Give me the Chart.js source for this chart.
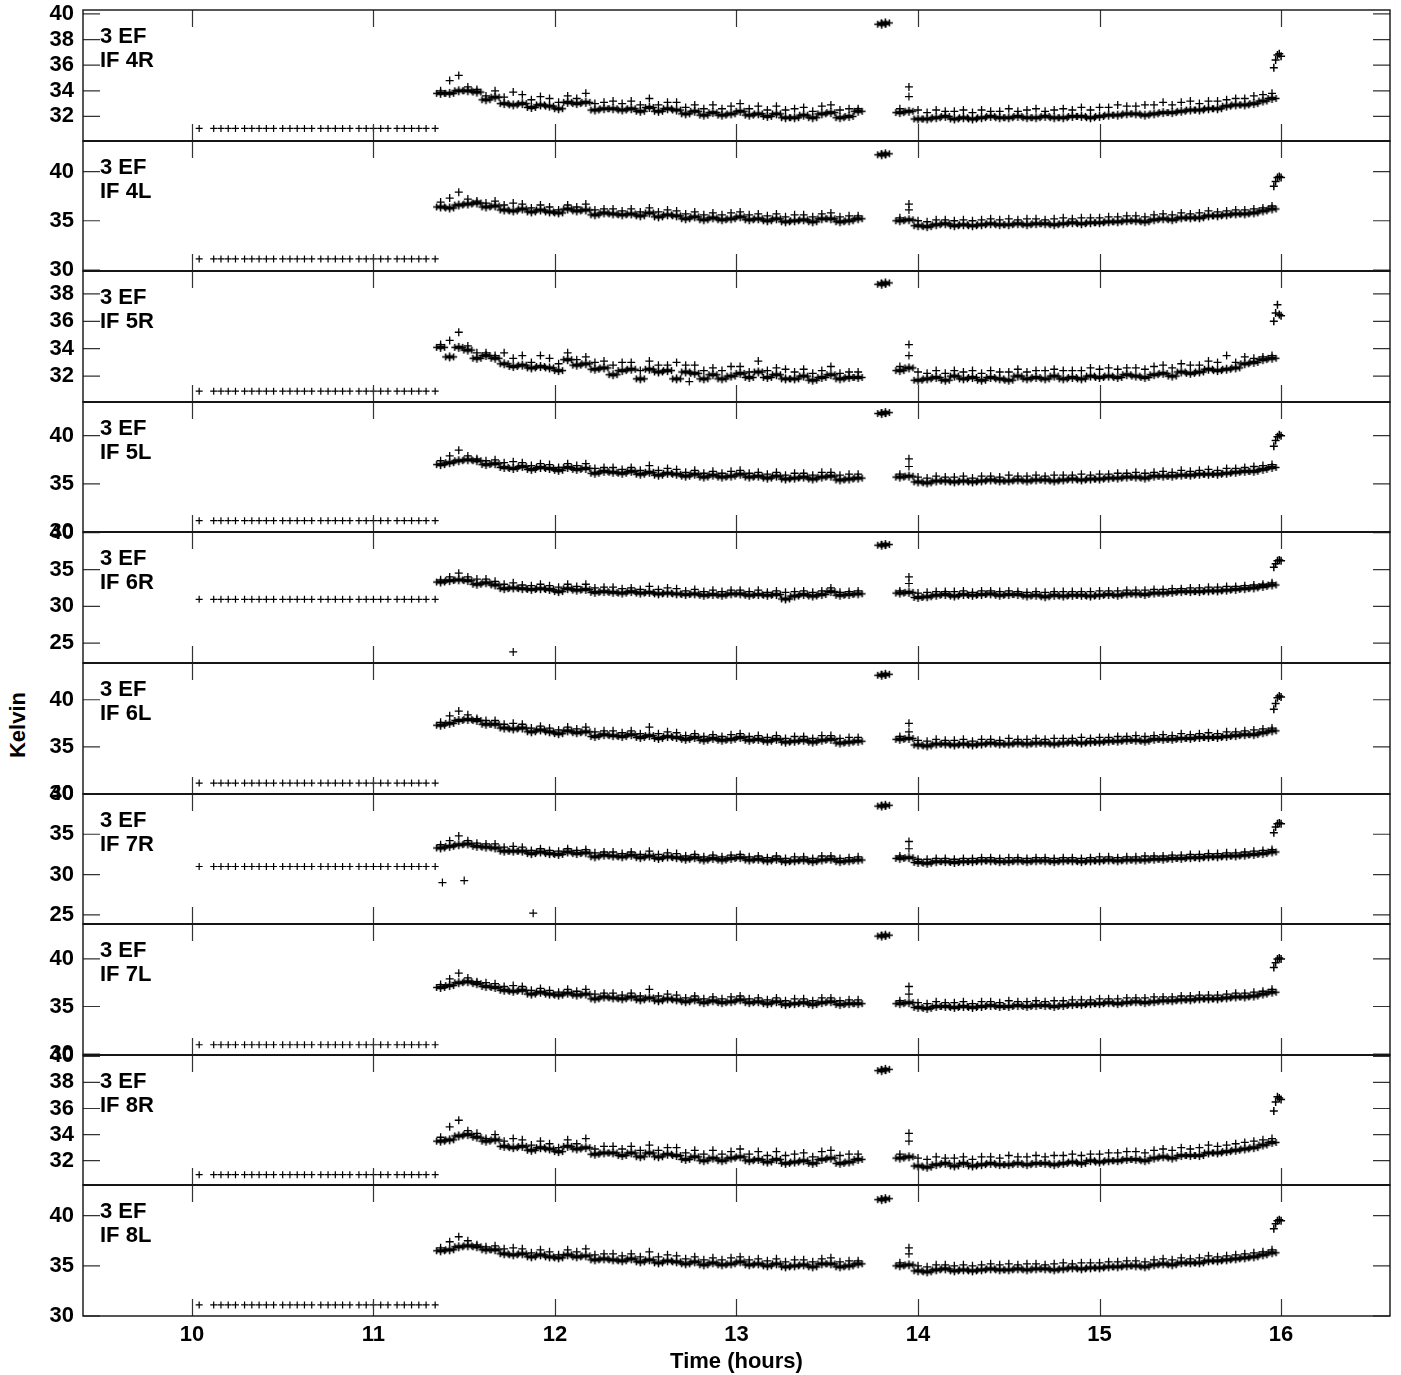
<!DOCTYPE html>
<html>
<head>
<meta charset="utf-8">
<script src="https://cdn.jsdelivr.net/npm/chart.js@4.4.1/dist/chart.umd.min.js"></script>
<style>
  body { margin: 0; background: #fff; width: 1401px; height: 1375px; overflow: hidden; position: relative; font-family: "Liberation Sans", Arial, sans-serif; }
  canvas { position: absolute; left: 0; }
  #ylab { position: absolute; left: 18px; top: 725px; transform: translate(-50%, -50%) rotate(-90deg); font-weight: bold; font-size: 22px; white-space: nowrap; }
</style>
</head>
<body>
<div id="ylab">Kelvin</div>
<script>
// ---- data ----
const antennaName = '3 EF';
const panelNames = ['IF 4R', 'IF 4L', 'IF 5R', 'IF 5L', 'IF 6R', 'IF 6L', 'IF 7R', 'IF 7L', 'IF 8R', 'IF 8L'];
const xTicks = [10, 11, 12, 13, 14, 15, 16];

const yTicksR = [32, 34, 36, 38, 40];
const yTicks5R = [32, 34, 36, 38];
const yTicksL = [30, 35, 40];
const yTicksWide = [25, 30, 35, 40];

// start-up scans sitting at the panel floor
const earlyTimes = [10.04, 10.12, 10.16, 10.20, 10.24, 10.29, 10.33, 10.37, 10.41, 10.45, 10.50, 10.54, 10.58, 10.62, 10.66, 10.71,
  10.75, 10.79, 10.83, 10.87, 10.92, 10.96, 11.00, 11.04, 11.08, 11.13, 11.17, 11.21, 11.25, 11.29, 11.34];
const earlyLevels = [31.06, 31.13, 30.9, 31.18, 30.95, 31.16, 31.0, 30.98, 30.93, 31.1];

const timesA = [11.37, 11.42, 11.47, 11.52, 11.57, 11.62, 11.67, 11.72, 11.77, 11.82, 11.87, 11.92, 11.97, 12.02, 12.07, 12.12,
  12.17, 12.22, 12.27, 12.32, 12.37, 12.42, 12.47, 12.52, 12.57, 12.62, 12.67, 12.72, 12.77, 12.82, 12.87, 12.92, 12.97, 13.02,
  13.07, 13.12, 13.17, 13.22, 13.27, 13.32, 13.37, 13.42, 13.47, 13.52, 13.57, 13.62, 13.67];
const timesC = [13.90, 13.95, 14.00, 14.05, 14.10, 14.15, 14.20, 14.25, 14.30, 14.35, 14.40, 14.45, 14.50, 14.55, 14.60, 14.65,
  14.70, 14.75, 14.80, 14.85, 14.90, 14.95, 15.00, 15.05, 15.10, 15.15, 15.20, 15.25, 15.30, 15.35, 15.40, 15.45, 15.50, 15.55,
  15.60, 15.65, 15.70, 15.75, 15.80, 15.85, 15.90, 15.95];
const hiTimes = [13.80, 13.82];
const riseTimes = [15.96, 15.97, 15.98, 15.99, 16.00];

// IF 4R
const base4R_A = [33.8,33.8,34.0,34.0,33.9,33.3,33.5,33.0,32.9,33.0,32.7,32.9,32.8,32.6,33.1,33.0,33.1,32.5,32.6,32.6,32.5,32.6,32.4,32.7,32.4,32.6,32.5,32.2,32.4,32.1,32.3,32.1,32.2,32.4,32.1,32.2,32.0,32.2,31.9,31.9,32.1,31.9,32.2,32.3,31.9,32.0,32.4];
const spike4R_A = [34.0,34.8,35.2,34.3,34.1,33.6,34.0,33.5,33.9,33.7,33.3,33.55,33.4,33.1,33.6,33.4,33.8,33.0,33.1,33.2,33.0,33.2,32.9,33.4,32.9,33.1,33.1,32.7,32.9,32.6,32.9,32.6,32.8,33.0,32.6,32.8,32.5,32.8,32.5,32.6,32.7,32.4,32.8,32.9,32.5,32.6,32.6];
const base4R_C = [32.3,32.4,31.8,31.8,31.9,32.0,31.8,31.9,31.8,31.9,32.0,31.9,31.9,32.0,31.9,31.9,32.0,31.9,31.9,32.0,32.0,31.9,32.0,32.1,32.1,32.2,32.2,32.1,32.2,32.3,32.3,32.4,32.5,32.5,32.6,32.6,32.8,32.9,32.9,33.0,33.2,33.4];
const spike4R_C = [32.6,34.3,32.5,32.3,32.5,32.4,32.4,32.5,32.3,32.5,32.4,32.4,32.6,32.4,32.5,32.6,32.4,32.5,32.6,32.5,32.7,32.5,32.7,32.7,32.9,32.8,32.8,32.9,32.9,33.1,32.9,33.1,33.2,33.0,33.2,33.2,33.3,33.4,33.4,33.6,33.7,33.8];
const hi4R = [39.2, 39.3];
const rise4R = [35.8, 36.4, 36.8, 36.9, 36.7];
const extraT4R = [13.95];
const extraV4R = [33.55];

// IF 4L
const base4L_A = [36.4,36.3,36.6,36.7,36.8,36.4,36.5,36.1,36.0,36.2,35.9,36.1,35.9,35.8,36.2,36.0,36.1,35.6,35.8,35.7,35.6,35.7,35.5,35.8,35.4,35.6,35.5,35.2,35.4,35.1,35.3,35.1,35.2,35.4,35.1,35.2,35.0,35.2,34.9,35.0,35.1,34.9,35.2,35.2,34.9,35.0,35.2];
const spike4L_A = [36.9,37.3,37.9,37.2,37.0,36.8,37.0,36.6,36.8,36.7,36.3,36.6,36.4,36.1,36.6,36.4,36.7,36.1,36.2,36.2,36.0,36.2,35.9,36.3,35.9,36.1,36.0,35.7,35.9,35.6,35.8,35.6,35.8,35.9,35.6,35.7,35.5,35.7,35.4,35.6,35.6,35.4,35.7,35.8,35.4,35.5,35.5];
const base4L_C = [35.0,35.1,34.5,34.4,34.6,34.7,34.5,34.6,34.5,34.6,34.7,34.6,34.6,34.7,34.6,34.7,34.7,34.6,34.7,34.8,34.7,34.8,34.8,34.9,34.9,35.0,35.0,34.9,35.1,35.2,35.1,35.3,35.3,35.3,35.5,35.5,35.6,35.7,35.7,35.8,36.0,36.2];
const spike4L_C = [35.3,36.7,35.0,34.9,35.1,35.1,35.0,35.1,35.0,35.1,35.2,35.1,35.2,35.1,35.2,35.2,35.1,35.2,35.3,35.2,35.3,35.3,35.3,35.4,35.4,35.5,35.5,35.4,35.6,35.7,35.6,35.8,35.7,35.8,36.0,35.9,36.0,36.1,36.1,36.2,36.3,36.5];
const hi4L = [41.7, 41.8];
const rise4L = [38.5, 39.0, 39.4, 39.5, 39.4];
const extraT4L = [13.95];
const extraV4L = [36.1];

// IF 5R
const base5R_A = [34.1,33.4,34.1,33.9,33.3,33.5,33.3,32.9,32.7,32.8,32.6,32.7,32.6,32.4,33.2,32.8,32.9,32.5,32.6,32.1,32.4,32.5,31.8,32.5,32.3,32.4,31.8,32.3,32.2,31.8,32.1,31.8,32.0,32.2,31.9,32.3,31.9,32.1,31.8,31.8,32.0,31.7,31.9,32.1,31.8,31.9,31.9];
const spike5R_A = [34.3,34.6,35.2,34.2,33.7,33.7,33.5,33.7,33.3,33.5,33.0,33.5,33.3,32.9,33.7,33.2,33.4,33.0,33.1,32.8,33.0,33.0,32.4,33.1,32.8,32.8,33.0,32.8,32.8,32.4,32.6,32.4,32.7,32.7,32.3,33.1,32.4,32.6,32.5,32.3,32.5,32.2,32.4,32.7,32.2,32.3,32.3];
const base5R_C = [32.4,32.6,31.7,31.8,31.9,31.7,32.0,31.8,31.9,31.7,31.9,31.8,31.7,32.0,31.8,31.9,31.8,32.0,31.8,31.9,31.8,32.0,31.9,32.0,31.9,32.1,32.0,31.9,32.1,32.2,32.0,32.3,32.2,32.3,32.5,32.4,32.5,32.6,32.9,33.0,33.2,33.3];
const spike5R_C = [32.7,34.3,32.3,32.2,32.4,32.2,32.4,32.3,32.4,32.2,32.4,32.3,32.3,32.5,32.3,32.4,32.4,32.5,32.4,32.4,32.4,32.6,32.5,32.6,32.5,32.6,32.6,32.5,32.7,32.8,32.6,32.9,32.8,32.8,33.1,33.0,33.5,33.0,33.4,33.3,33.4,33.5];
const hi5R = [38.7, 38.8];
const rise5R = [36.0, 36.6, 37.2, 36.5, 36.4];
const extraT5R = [12.74, 13.95];
const extraV5R = [31.6, 33.5];

// IF 5L
const base5L_A = [37.0,37.2,37.4,37.5,37.4,37.0,37.1,36.7,36.6,36.8,36.5,36.7,36.6,36.4,36.7,36.5,36.6,36.1,36.3,36.2,36.1,36.3,36.0,36.2,35.9,36.1,36.0,35.8,36.0,35.7,35.9,35.7,35.8,36.0,35.7,35.8,35.6,35.8,35.5,35.6,35.7,35.5,35.7,35.8,35.4,35.5,35.6];
const spike5L_A = [37.4,37.9,38.5,37.9,37.6,37.4,37.5,37.2,37.3,37.2,36.9,37.1,37.0,36.7,37.1,36.9,37.1,36.6,36.7,36.7,36.5,36.7,36.4,36.9,36.4,36.6,36.5,36.2,36.4,36.1,36.3,36.1,36.3,36.4,36.1,36.2,36.0,36.2,35.9,36.1,36.1,35.9,36.2,36.2,35.9,36.0,36.0];
const base5L_C = [35.7,35.8,35.2,35.1,35.3,35.3,35.2,35.3,35.2,35.3,35.4,35.3,35.3,35.4,35.3,35.4,35.4,35.3,35.4,35.5,35.4,35.5,35.5,35.6,35.6,35.7,35.7,35.6,35.8,35.8,35.8,35.9,35.9,36.0,36.0,36.0,36.1,36.2,36.3,36.3,36.5,36.7];
const spike5L_C = [36.0,37.6,35.7,35.6,35.8,35.7,35.7,35.8,35.6,35.8,35.8,35.7,35.9,35.8,35.8,35.9,35.8,35.9,35.9,35.9,36.0,35.9,36.0,36.0,36.1,36.1,36.2,36.1,36.2,36.3,36.2,36.4,36.3,36.4,36.5,36.4,36.6,36.6,36.7,36.8,36.9,37.0];
const hi5L = [42.3, 42.4];
const rise5L = [38.9, 39.5, 39.9, 40.1, 40.0];
const extraT5L = [13.95];
const extraV5L = [36.8];

// IF 6R
const base6R_A = [33.3,33.5,33.6,33.5,33.0,33.2,32.9,32.4,32.5,32.4,32.3,32.4,32.3,32.0,32.4,32.2,32.3,31.9,32.0,31.9,31.8,32.0,31.8,31.9,31.7,31.8,31.7,31.6,31.7,31.5,31.6,31.5,31.7,31.7,31.5,31.6,31.5,31.6,31.0,31.4,31.6,31.4,31.6,32.0,31.5,31.6,31.7];
const spike6R_A = [33.6,34.0,34.5,34.0,33.7,33.7,33.4,33.0,33.2,32.9,32.8,33.0,32.8,32.6,33.0,32.7,33.0,32.5,32.6,32.6,32.4,32.5,32.3,32.7,32.3,32.5,32.4,32.1,32.3,32.0,32.2,32.0,32.2,32.2,32.0,32.2,31.9,32.1,31.9,32.0,32.1,31.9,32.1,32.5,31.9,32.0,32.1];
const base6R_C = [31.8,31.9,31.2,31.3,31.5,31.6,31.4,31.6,31.5,31.6,31.7,31.5,31.6,31.6,31.4,31.5,31.3,31.5,31.4,31.5,31.5,31.4,31.5,31.6,31.5,31.7,31.7,31.6,31.8,31.8,31.9,32.0,32.0,32.0,32.1,32.1,32.2,32.3,32.4,32.5,32.7,32.9];
const spike6R_C = [32.1,34.0,31.8,31.9,32.0,32.0,32.0,32.1,31.9,32.1,32.1,32.0,32.1,32.0,31.9,32.0,31.9,32.0,32.0,32.0,32.0,32.0,32.1,32.1,32.1,32.2,32.2,32.2,32.3,32.3,32.4,32.4,32.5,32.5,32.6,32.6,32.7,32.7,32.8,32.9,33.0,33.2];
const hi6R = [38.3, 38.4];
const rise6R = [35.3, 35.8, 36.2, 36.3, 36.2];
const extraT6R = [11.77, 13.95];
const extraV6R = [23.8, 33.1];

// IF 6L
const base6L_A = [37.3,37.5,37.8,37.9,37.8,37.4,37.4,37.0,36.9,37.0,36.6,36.8,36.6,36.4,36.7,36.5,36.6,36.1,36.3,36.2,36.1,36.3,36.0,36.2,35.9,36.1,36.0,35.8,36.0,35.7,35.9,35.7,35.8,36.0,35.7,35.8,35.6,35.8,35.5,35.6,35.7,35.5,35.7,35.8,35.4,35.5,35.6];
const spike6L_A = [37.6,38.3,38.8,38.4,38.0,37.8,37.8,37.4,37.5,37.4,37.0,37.2,37.0,36.8,37.1,36.9,37.1,36.6,36.7,36.7,36.5,36.7,36.4,37.1,36.4,36.6,36.5,36.2,36.4,36.1,36.3,36.1,36.3,36.4,36.1,36.2,36.0,36.2,35.9,36.1,36.1,35.9,36.2,36.2,35.9,36.0,36.0];
const base6L_C = [35.8,35.9,35.2,35.1,35.3,35.3,35.2,35.3,35.2,35.3,35.4,35.3,35.3,35.4,35.3,35.4,35.4,35.3,35.4,35.5,35.4,35.5,35.5,35.6,35.6,35.7,35.7,35.6,35.8,35.8,35.8,35.9,35.9,36.0,36.0,36.0,36.1,36.2,36.3,36.3,36.5,36.7];
const spike6L_C = [36.1,37.5,35.7,35.6,35.8,35.7,35.7,35.8,35.6,35.8,35.8,35.7,35.9,35.8,35.8,35.9,35.8,35.9,35.9,35.9,36.0,35.9,36.0,36.0,36.1,36.1,36.2,36.1,36.2,36.3,36.2,36.4,36.3,36.4,36.5,36.4,36.6,36.6,36.7,36.8,36.9,37.0];
const hi6L = [42.6, 42.7];
const rise6L = [39.0, 39.6, 40.2, 40.4, 40.3];
const extraT6L = [13.95];
const extraV6L = [36.6];

// IF 7R
const base7R_A = [33.3,33.5,33.7,33.8,33.5,33.4,33.3,32.9,32.9,32.9,32.6,32.8,32.6,32.5,32.8,32.6,32.7,32.2,32.4,32.3,32.2,32.4,32.1,32.3,32.0,32.2,32.1,31.9,32.1,31.8,32.0,31.8,32.0,32.1,31.8,31.9,31.7,31.9,31.6,31.7,31.8,31.6,31.8,31.9,31.6,31.7,31.8];
const spike7R_A = [33.7,34.2,34.8,34.2,33.9,33.8,33.8,33.4,33.5,33.4,33.0,33.2,33.0,32.9,33.2,33.0,33.1,32.7,32.8,32.8,32.6,32.8,32.5,32.9,32.5,32.7,32.6,32.3,32.5,32.2,32.4,32.2,32.4,32.5,32.2,32.3,32.1,32.3,32.0,32.2,32.2,32.0,32.3,32.3,32.0,32.1,32.2];
const base7R_C = [32.0,32.1,31.5,31.4,31.6,31.6,31.5,31.6,31.6,31.7,31.7,31.6,31.6,31.7,31.6,31.7,31.7,31.6,31.7,31.7,31.6,31.7,31.7,31.8,31.7,31.8,31.8,31.8,31.9,31.9,32.0,32.0,32.1,32.1,32.2,32.2,32.3,32.3,32.4,32.5,32.6,32.8];
const spike7R_C = [32.3,34.1,31.9,31.9,32.0,32.0,31.9,32.0,32.0,32.1,32.1,32.0,32.1,32.1,32.0,32.1,32.1,32.0,32.1,32.1,32.0,32.1,32.2,32.2,32.1,32.2,32.2,32.3,32.3,32.3,32.4,32.4,32.5,32.5,32.6,32.6,32.7,32.7,32.8,32.9,33.0,33.1];
const hi7R = [38.5, 38.6];
const rise7R = [35.2, 35.9, 36.3, 36.4, 36.3];
const extraT7R = [11.38, 11.50, 11.88, 13.95];
const extraV7R = [29.0, 29.25, 25.2, 33.2];

// IF 7L
const base7L_A = [37.0,37.2,37.5,37.6,37.4,37.1,37.0,36.7,36.6,36.7,36.3,36.5,36.3,36.2,36.4,36.2,36.3,35.8,36.0,35.9,35.8,36.0,35.7,35.9,35.6,35.8,35.7,35.5,35.7,35.4,35.6,35.4,35.5,35.7,35.4,35.5,35.3,35.5,35.2,35.3,35.4,35.2,35.4,35.5,35.2,35.3,35.3];
const spike7L_A = [37.3,37.9,38.5,38.0,37.6,37.5,37.4,37.1,37.2,37.1,36.7,36.9,36.7,36.5,36.8,36.6,36.8,36.3,36.4,36.4,36.2,36.4,36.1,36.8,36.1,36.3,36.2,35.9,36.1,35.8,36.0,35.8,36.0,36.1,35.8,35.9,35.7,35.9,35.6,35.8,35.8,35.6,35.9,35.9,35.6,35.7,35.7];
const base7L_C = [35.3,35.4,34.9,34.8,35.0,35.0,34.9,35.0,34.9,35.0,35.1,35.0,35.0,35.1,35.0,35.1,35.1,35.0,35.1,35.2,35.2,35.3,35.3,35.4,35.3,35.4,35.5,35.4,35.5,35.6,35.6,35.7,35.7,35.8,35.8,35.8,35.9,36.0,36.0,36.1,36.3,36.5];
const spike7L_C = [35.6,37.1,35.4,35.3,35.5,35.4,35.4,35.5,35.3,35.5,35.5,35.4,35.6,35.5,35.5,35.6,35.5,35.6,35.6,35.7,35.7,35.7,35.8,35.8,35.8,35.9,35.9,35.9,36.0,36.0,36.0,36.1,36.1,36.2,36.2,36.2,36.3,36.4,36.4,36.5,36.6,36.8];
const hi7L = [42.4, 42.5];
const rise7L = [39.1, 39.6, 40.0, 40.1, 40.0];
const extraT7L = [13.95];
const extraV7L = [36.3];

// IF 8R
const base8R_A = [33.5,33.6,33.9,34.0,33.8,33.5,33.6,33.1,33.0,33.1,32.8,33.0,32.9,32.7,33.1,32.9,33.0,32.5,32.6,32.6,32.4,32.6,32.3,32.6,32.3,32.5,32.4,32.1,32.3,32.0,32.2,32.0,32.2,32.3,32.0,32.1,31.9,32.1,31.8,31.9,32.0,31.8,32.1,32.2,31.8,31.9,32.1];
const spike8R_A = [33.8,34.6,35.1,34.3,34.1,33.7,34.0,33.5,33.7,33.6,33.2,33.5,33.3,33.0,33.6,33.3,33.7,32.9,33.1,33.1,32.9,33.1,32.8,33.2,32.8,33.0,33.0,32.6,32.8,32.5,32.8,32.5,32.7,32.9,32.5,32.7,32.4,32.7,32.4,32.5,32.6,32.3,32.7,32.8,32.4,32.5,32.5];
const base8R_C = [32.2,32.3,31.6,31.5,31.7,31.8,31.6,31.8,31.6,31.7,31.8,31.7,31.7,31.8,31.7,31.8,31.8,31.7,31.8,31.9,31.8,32.0,31.9,32.0,32.0,32.1,32.1,32.0,32.2,32.3,32.2,32.4,32.4,32.4,32.6,32.6,32.7,32.8,32.9,33.0,33.2,33.4];
const spike8R_C = [32.5,34.1,32.2,32.1,32.3,32.2,32.2,32.3,32.1,32.3,32.3,32.2,32.4,32.3,32.3,32.4,32.3,32.4,32.4,32.5,32.4,32.5,32.5,32.6,32.6,32.7,32.7,32.6,32.8,32.9,32.8,33.0,32.9,33.0,33.2,33.1,33.2,33.3,33.4,33.5,33.6,33.7];
const hi8R = [38.9, 39.0];
const rise8R = [35.8, 36.5, 36.9, 36.8, 36.7];
const extraT8R = [13.95];
const extraV8R = [33.5];

// IF 8L
const base8L_A = [36.5,36.6,36.9,37.0,36.9,36.6,36.6,36.2,36.1,36.2,35.9,36.1,35.9,35.8,36.1,35.9,36.0,35.6,35.7,35.6,35.5,35.7,35.4,35.6,35.3,35.5,35.4,35.2,35.4,35.1,35.3,35.1,35.2,35.4,35.1,35.2,35.0,35.2,34.9,35.0,35.1,34.9,35.2,35.2,34.9,35.0,35.2];
const spike8L_A = [36.8,37.4,37.9,37.5,37.1,36.9,37.0,36.7,36.8,36.7,36.3,36.6,36.4,36.1,36.6,36.4,36.7,36.1,36.2,36.2,36.0,36.2,35.9,36.4,35.9,36.1,36.0,35.7,35.9,35.6,35.8,35.6,35.8,35.9,35.6,35.7,35.5,35.7,35.4,35.6,35.6,35.4,35.7,35.8,35.4,35.5,35.5];
const base8L_C = [35.0,35.1,34.5,34.4,34.6,34.7,34.5,34.6,34.5,34.6,34.7,34.6,34.6,34.7,34.6,34.7,34.7,34.6,34.7,34.8,34.7,34.8,34.8,34.9,34.9,35.0,35.0,34.9,35.1,35.2,35.1,35.3,35.3,35.3,35.5,35.5,35.6,35.7,35.8,35.9,36.1,36.3];
const spike8L_C = [35.3,36.8,35.0,34.9,35.1,35.1,35.0,35.1,35.0,35.1,35.2,35.1,35.2,35.1,35.2,35.2,35.1,35.2,35.3,35.2,35.3,35.3,35.3,35.4,35.4,35.5,35.5,35.4,35.6,35.7,35.6,35.8,35.7,35.8,36.0,35.9,36.0,36.1,36.2,36.3,36.4,36.6];
const hi8L = [41.6, 41.7];
const rise8L = [38.7, 39.2, 39.5, 39.6, 39.5];
const extraT8L = [13.95];
const extraV8L = [36.2];

// ---- panel config ----
const yMins = [30.08, 29.9, 30.11, 30.0, 22.3, 30.0, 23.86, 29.9, 30.14, 30.0];
const yMaxs = [40.31, 43.1, 39.67, 43.5, 40.1, 43.9, 40.0, 43.67, 40.1, 43.06];
const yTicksPer = [yTicksR, yTicksL, yTicks5R, yTicksL, yTicksWide, yTicksL, yTicksWide, yTicksL, yTicksR, yTicksL];

const panels = [
  [base4R_A, spike4R_A, base4R_C, spike4R_C, hi4R, rise4R, extraT4R, extraV4R],
  [base4L_A, spike4L_A, base4L_C, spike4L_C, hi4L, rise4L, extraT4L, extraV4L],
  [base5R_A, spike5R_A, base5R_C, spike5R_C, hi5R, rise5R, extraT5R, extraV5R],
  [base5L_A, spike5L_A, base5L_C, spike5L_C, hi5L, rise5L, extraT5L, extraV5L],
  [base6R_A, spike6R_A, base6R_C, spike6R_C, hi6R, rise6R, extraT6R, extraV6R],
  [base6L_A, spike6L_A, base6L_C, spike6L_C, hi6L, rise6L, extraT6L, extraV6L],
  [base7R_A, spike7R_A, base7R_C, spike7R_C, hi7R, rise7R, extraT7R, extraV7R],
  [base7L_A, spike7L_A, base7L_C, spike7L_C, hi7L, rise7L, extraT7L, extraV7L],
  [base8R_A, spike8R_A, base8R_C, spike8R_C, hi8R, rise8R, extraT8R, extraV8R],
  [base8L_A, spike8L_A, base8L_C, spike8L_C, hi8L, rise8L, extraT8L, extraV8L]
];

// ---- layout ----
const plotTop = 10, plotBottom = 1316, plotLeft = 83, plotRight = 1390;
const panelH = (plotBottom - plotTop) / panelNames.length;
const pad = 30, xAxisH = 59;   // pad must exceed half a tick label + tick padding
const FONT = { family: '"Liberation Sans", Arial, sans-serif', size: 22, weight: 'bold' };

// a few overlapping pluses, like one scan's worth of points
const blob = document.createElement('canvas');
blob.width = 17; blob.height = 11;
(function () {
  const b = blob.getContext('2d');
  b.strokeStyle = '#000';
  b.lineWidth = 1.5;
  [[4.5, 5.5], [8.5, 4.5], [12.5, 5.5], [8.5, 6.5]].forEach(function (c) {
    b.beginPath();
    b.moveTo(c[0] - 3.5, c[1]); b.lineTo(c[0] + 3.5, c[1]);
    b.moveTo(c[0], c[1] - 3.5); b.lineTo(c[0], c[1] + 3.5);
    b.stroke();
  });
})();

const zip = (xs, ys) => xs.map((x, k) => ({ x: x, y: ys[k] }));

// box, inward ticks and panel labels
const framePlugin = {
  id: 'frame',
  afterDraw(chart, args, opts) {
    const ctx = chart.ctx, a = chart.chartArea, sx = chart.scales.x, sy = chart.scales.y;
    ctx.save();
    ctx.strokeStyle = '#333';
    ctx.lineWidth = 1.2;
    ctx.beginPath();
    xTicks.forEach(function (v) {
      const px = Math.round(sx.getPixelForValue(v)) + 0.5;
      ctx.moveTo(px, a.top); ctx.lineTo(px, a.top + 17);
      ctx.moveTo(px, a.bottom); ctx.lineTo(px, a.bottom - 17);
    });
    opts.ticks.forEach(function (v) {
      const py = sy.getPixelForValue(v);
      if (py < a.top - 1 || py > a.bottom + 1) return;
      ctx.moveTo(a.left, py); ctx.lineTo(a.left + 17, py);
      ctx.moveTo(a.right, py); ctx.lineTo(a.right - 17, py);
    });
    ctx.stroke();

    ctx.strokeStyle = '#111';
    ctx.lineWidth = 1.4;
    ctx.strokeRect(a.left, a.top, a.right - a.left, a.bottom - a.top);
    if (!opts.last) {
      ctx.strokeStyle = '#222';
      ctx.lineWidth = 2;
      ctx.beginPath();
      ctx.moveTo(a.left, a.bottom); ctx.lineTo(a.right, a.bottom);
      ctx.stroke();
    }

    ctx.fillStyle = '#000';
    ctx.font = 'bold 22px "Liberation Sans", Arial, sans-serif';
    ctx.textAlign = 'left';
    ctx.textBaseline = 'alphabetic';
    ctx.fillText(antennaName, 100, a.top + 32.7);
    ctx.fillText(opts.name, 100, a.top + 56.7);
    ctx.restore();
  }
};

panels.forEach(function (p, i) {
  const last = i === panels.length - 1;
  const top = Math.round(plotTop + i * panelH);
  const bottom = Math.round(plotTop + (i + 1) * panelH);
  const cv = document.createElement('canvas');
  cv.width = 1401;
  cv.height = (bottom - top) + pad + (last ? xAxisH : pad);
  cv.style.top = (top - pad) + 'px';
  document.body.appendChild(cv);

  const floor = earlyTimes.map(t => ({ x: t, y: earlyLevels[i] }));
  const cross = { pointStyle: 'cross', borderColor: '#000', backgroundColor: '#000' };

  new Chart(cv, {
    type: 'scatter',
    data: {
      datasets: [
        Object.assign({ data: floor, pointRadius: 3.5, borderWidth: 1.2 }, cross),
        { data: zip(timesA, p[0]).concat(zip(timesC, p[2]), zip(hiTimes, p[4])), pointStyle: blob, pointRadius: 5 },
        Object.assign({ data: zip(timesA, p[1]).concat(zip(timesC, p[3])), pointRadius: 4, borderWidth: 1.3 }, cross),
        Object.assign({ data: zip(riseTimes, p[5]), pointRadius: 4, borderWidth: 1.5 }, cross),
        Object.assign({ data: zip(p[6], p[7]), pointRadius: 4, borderWidth: 1.2 }, cross)
      ]
    },
    options: {
      responsive: false,
      animation: false,
      devicePixelRatio: 1,
      events: [],
      layout: { padding: { top: pad, bottom: last ? 0 : pad, left: 0, right: 1401 - plotRight } },
      plugins: {
        legend: { display: false },
        tooltip: { enabled: false },
        frame: { ticks: yTicksPer[i], name: panelNames[i], last: last }
      },
      scales: {
        x: {
          type: 'linear',
          min: 9.4, max: 16.6,
          display: last,
          afterBuildTicks: s => { s.ticks = xTicks.map(v => ({ value: v })); },
          afterFit: s => { if (last) s.height = xAxisH; },
          grid: { display: false, drawTicks: false },
          border: { display: false },
          ticks: { color: '#000', font: FONT, padding: 6, maxRotation: 0, autoSkip: false },
          title: { display: true, text: 'Time (hours)', color: '#000', font: FONT, padding: { top: 0, bottom: 0 } }
        },
        y: {
          type: 'linear',
          min: yMins[i], max: yMaxs[i],
          afterBuildTicks: s => { s.ticks = yTicksPer[i].map(v => ({ value: v })); },
          afterFit: s => { s.width = plotLeft; },
          grid: { display: false, drawTicks: false },
          border: { display: false },
          ticks: { color: '#000', font: FONT, padding: 9, autoSkip: false }
        }
      }
    },
    plugins: [framePlugin]
  });
});
</script>
</body>
</html>
